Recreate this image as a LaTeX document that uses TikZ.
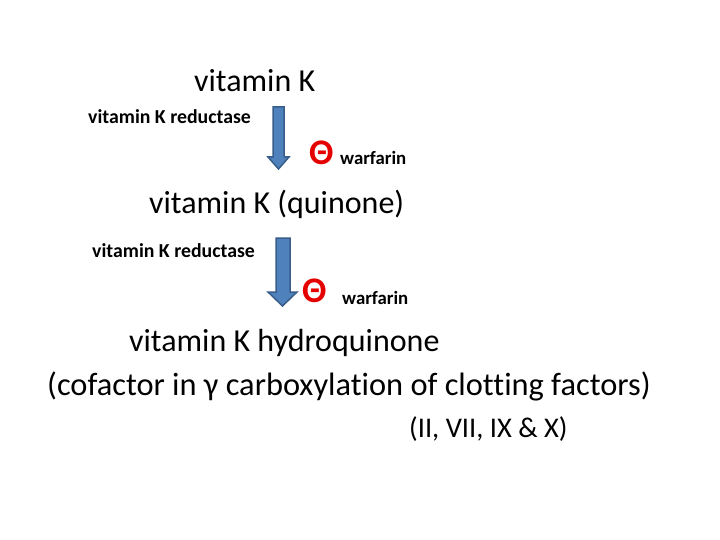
\documentclass[tikz,border=0pt]{standalone}
\usepackage{fontspec}
\setmainfont[Ligatures={NoCommon}]{Carlito}
\begin{document}
\begin{tikzpicture}[x=1pt,y=-1pt,
  txt/.style={inner sep=0pt,anchor=base west},
  big/.style={txt,font=\fontsize{32}{36}\selectfont},
  enz/.style={txt,font=\bfseries\fontsize{19.8}{22}\selectfont},
  warf/.style={txt,font=\bfseries\fontsize{18.8}{22}\selectfont},
  inhib/.style={txt,text=red!90!black,font=\bfseries\fontsize{36}{40}\selectfont},
  blockarrow/.style={fill={rgb,255:red,79;green,129;blue,189},draw={rgb,255:red,56;green,93;blue,138},line width=1.5pt,line join=miter}]
\useasboundingbox (0,0) rectangle (720,540);
\fill[white] (0,0) rectangle (720,540);
\node[big] (vk) at (194,92) {vitamin K};
\node[enz] (red1) at (88,124) {vitamin K reductase};
\draw[blockarrow] (273,107) -- (284,107) -- (284,157) -- (289,157) -- (278.5,169) -- (268,157) -- (273,157) -- cycle;
\node[inhib] (th1) at (309,165) {Θ};
\node[warf] (w1) at (340,165) {warfarin};
\node[big] (vkq) at (149,214) {vitamin K (quinone)};
\node[enz] (red2) at (92,258) {vitamin K reductase};
\draw[blockarrow] (276,238) -- (290,238) -- (290,292) -- (297,292) -- (282.5,306) -- (268,292) -- (276,292) -- cycle;
\node[inhib] (th2) at (302,302) {Θ};
\node[warf] (w2) at (342,304) {warfarin};
\node[big] (vkh) at (129,351) {vitamin K hydroquinone};
\node[big,font=\fontsize{32.4}{36}\selectfont] (cof) at (47,395) {(cofactor in γ carboxylation of clotting factors)};
\node[big,font=\fontsize{28.5}{32}\selectfont] (fac) at (409,437) {(II, VII, IX \& X)};
\end{tikzpicture}
\end{document}
